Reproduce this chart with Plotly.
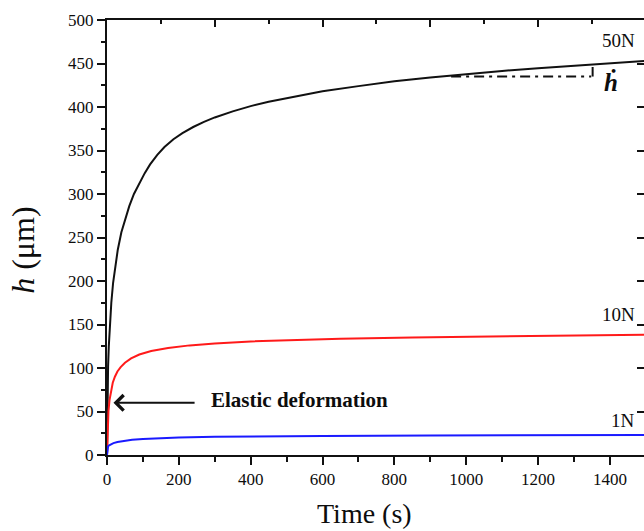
import plotly.graph_objects as go

# ---------------- data ----------------
t_50N = [0, 1, 2, 3, 5, 8, 12, 17, 23, 30, 40, 50, 62, 75, 90, 105, 120, 140, 160,
         185, 210, 240, 270, 300, 350, 400, 450, 500, 600, 700, 800, 900, 1000,
         1100, 1200, 1300, 1400, 1500]
h_50N = [0, 60, 85, 102, 125, 150, 175, 198, 218, 236, 256, 271, 286, 300, 313, 324,
         334, 345, 354, 363, 370, 377, 383, 388, 395, 401, 406, 410, 418, 424, 429.5,
         434, 438, 441.5, 444.5, 447.5, 450.5, 453]

t_10N = [0, 0.5, 1, 2, 4, 7, 11, 16, 22, 29, 38, 50, 67, 90, 123, 170, 230, 300, 400,
         500, 650, 850, 1100, 1300, 1500]
h_10N = [0, 10, 20, 35, 50, 63, 74, 83, 90, 96, 101, 106, 111, 115.5, 119.5, 123, 126,
         128.3, 130.5, 132, 133.7, 135.2, 136.6, 137.4, 138.1]

t_1N = [0, 0.5, 1, 3, 6, 10, 18, 29, 45, 70, 100, 132, 200, 300, 400, 600, 900, 1200, 1500]
h_1N = [0, 5, 8, 10, 11.2, 12.3, 13.7, 15, 16.3, 17.5, 18.5, 19.3, 20.2, 20.9, 21.3,
        21.8, 22.3, 22.7, 23.1]

series_names = ["50N", "10N", "1N"]
series_colors = ["#111111", "#ff1a1a", "#1a1aff"]

# creep-rate construction (dash-dot horizontal + short vertical)
rate_t = [958, 1348]
rate_h = [435, 435]
rate_v_t = [1352, 1352]
rate_v_h = [435, 446]

# annotation anchors (data units)
label_t = 1475
label_h = [476, 161, 40]
hdot_pos = (1402, 428)
elastic_tip = (18, 60)
elastic_tail = (248, 60)
elastic_text_pos = (285, 63)

x_range = [0, 1495]
y_range = [0, 500]

FONT = "Liberation Serif, Times New Roman, serif"
AX = "#111111"
TXT = "#0d0d0d"

fig = go.Figure()

for t, h, c in [(t_50N, h_50N, series_colors[0]),
                (t_10N, h_10N, series_colors[1]),
                (t_1N, h_1N, series_colors[2])]:
    fig.add_trace(go.Scatter(x=t, y=h, mode="lines", line=dict(color=c, width=2),
                             showlegend=False, hoverinfo="skip"))

fig.add_trace(go.Scatter(x=rate_t, y=rate_h, mode="lines",
                         line=dict(color="#111111", width=2, dash="10px,5px,3px,5px"),
                         showlegend=False, hoverinfo="skip"))
fig.add_trace(go.Scatter(x=rate_v_t, y=rate_v_h, mode="lines",
                         line=dict(color="#111111", width=2),
                         showlegend=False, hoverinfo="skip"))

# dummy traces to activate the mirrored top/right axes
fig.add_trace(go.Scatter(x=[None], y=[None], xaxis="x2", yaxis="y", showlegend=False))
fig.add_trace(go.Scatter(x=[None], y=[None], xaxis="x", yaxis="y2", showlegend=False))

ann = []
for name, hy in zip(series_names, label_h):
    ann.append(dict(x=label_t, y=hy, xref="x", yref="y", text=name, showarrow=False,
                    xanchor="right", yanchor="middle",
                    font=dict(family=FONT, size=19, color=TXT)))
ann.append(dict(x=hdot_pos[0], y=hdot_pos[1], xref="x", yref="y",
                text="<b><i>ḣ</i></b>", showarrow=False,
                font=dict(family="Liberation Serif, DejaVu Serif, serif", size=25, color=TXT)))
ann.append(dict(x=elastic_tip[0], y=elastic_tip[1], xref="x", yref="y",
                ax=elastic_tail[0], ay=elastic_tail[1], axref="x", ayref="y",
                text="", showarrow=True, arrowhead=4, arrowsize=1.5, arrowwidth=2,
                arrowcolor="#111", standoff=0))
ann.append(dict(x=elastic_text_pos[0], y=elastic_text_pos[1], xref="x", yref="y",
                text="<b>Elastic deformation</b>", showarrow=False,
                xanchor="left", yanchor="middle",
                font=dict(family=FONT, size=21, color=TXT)))
# axis titles
ann.append(dict(x=0.48, y=-0.135, xref="paper", yref="paper", text="Time (s)",
                showarrow=False, xanchor="center", yanchor="middle",
                font=dict(family=FONT, size=28, color=TXT)))
ann.append(dict(x=-0.157, y=0.471, xref="paper", yref="paper", text="<i>h</i> (μm)",
                showarrow=False, xanchor="center", yanchor="middle", textangle=-90,
                font=dict(family=FONT, size=32, color=TXT)))

fig.update_layout(
    width=644, height=531,
    margin=dict(l=107, r=0, t=20, b=76),
    paper_bgcolor="white", plot_bgcolor="white",
    font=dict(family=FONT, size=17, color=TXT),
    annotations=ann,
    xaxis=dict(range=x_range, showgrid=False, zeroline=False,
               showline=True, linewidth=2, linecolor=AX,
               ticks="outside", ticklen=8, tickwidth=2, tickcolor=AX,
               tickmode="linear", tick0=0, dtick=200,
               minor=dict(ticks="outside", ticklen=5, tickwidth=2, tickcolor=AX, dtick=100),
               tickfont=dict(family=FONT, size=17, color=TXT)),
    yaxis=dict(range=y_range, showgrid=False, zeroline=False,
               showline=True, linewidth=2, linecolor=AX,
               ticks="outside", ticklen=8, tickwidth=2, tickcolor=AX,
               tickmode="linear", tick0=0, dtick=50,
               minor=dict(ticks="outside", ticklen=4, tickwidth=2, tickcolor=AX, dtick=25),
               tickfont=dict(family=FONT, size=17, color=TXT)),
    xaxis2=dict(range=x_range, overlaying="x", side="top", showgrid=False, zeroline=False,
                showline=True, linewidth=2, linecolor=AX, showticklabels=False,
                ticks="inside", ticklen=7, tickwidth=2, tickcolor=AX,
                tickmode="linear", tick0=0, dtick=300,
                minor=dict(ticks="inside", ticklen=4, tickwidth=2, tickcolor=AX, dtick=150)),
    yaxis2=dict(range=y_range, overlaying="y", side="right", showgrid=False, zeroline=False,
                showline=False, showticklabels=False,
                ticks="inside", ticklen=7, tickwidth=2, tickcolor=AX,
                tickmode="linear", tick0=0, dtick=50),
)

fig.write_html("out.html",
               config={"displayModeBar": False},
               post_script="document.body.style.margin='0px';document.body.style.overflow='hidden';")
